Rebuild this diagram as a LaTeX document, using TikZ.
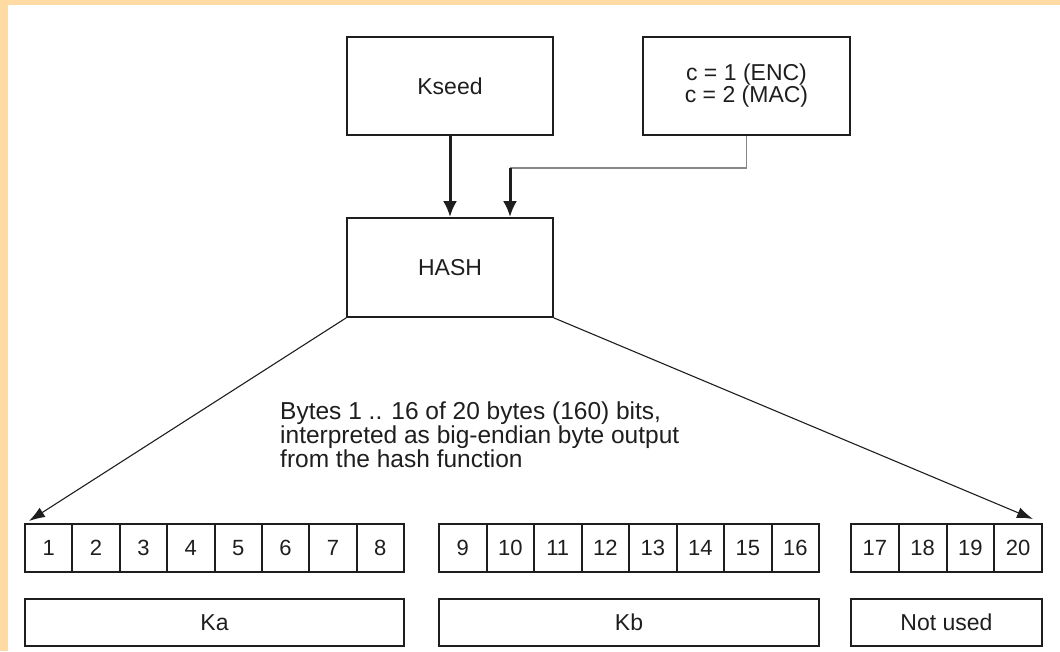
\documentclass[tikz,border=0pt]{standalone}
\usepackage{fontspec}
\setmainfont{Liberation Sans}
\usetikzlibrary{arrows.meta}
\definecolor{peach}{RGB}{255,218,162}
\definecolor{ink}{RGB}{30,30,30}
\definecolor{linegray}{RGB}{135,135,135}
\tikzset{
  box/.style={draw=ink, line width=1.8pt, inner sep=0pt, minimum width=206pt, minimum height=98pt, font=\fontsize{23}{22}\selectfont, text=ink, align=center},
  cell/.style={draw=ink, line width=2pt, inner sep=0pt, minimum height=48pt, font=\fontsize{22}{22}\selectfont, text=ink},
  bar/.style={draw=ink, line width=1.8pt, inner sep=0pt, minimum height=47pt, font=\fontsize{23}{23}\selectfont, text=ink},
  feed/.style={line width=3pt, draw=ink, -{Latex[length=16pt,width=14pt]}},
  fan/.style={line width=1.1pt, draw=ink, -{Latex[length=16pt,width=11pt]}},
  wire/.style={line width=1.5pt, draw=linegray},
  note/.style={inner sep=0pt, align=left, font=\fontsize{24.5}{21.5}\selectfont, text=ink},
}
\begin{document}
\begin{tikzpicture}[x=1pt,y=-1pt]
\useasboundingbox (0,0) rectangle (1060,651);
\fill[peach] (0,0) rectangle (1060,5);
\fill[peach] (0,0) rectangle (8,651);

\node[box] (kseed) at (450,86) {Kseed};
\node[box, minimum width=207pt] (cbox) at (746.5,86) {c = 1 (ENC)\\c = 2 (MAC)};
\node[box, minimum height=99pt] (hash) at (450,267.5) {HASH};

\foreach \i in {1,...,8}
  \node[cell, minimum width=47.375pt] (b\i) at ({25+47.375*(\i-0.5)},548) {\i};
\foreach \i in {9,...,16}
  \node[cell, minimum width=47.5pt] (b\i) at ({439+47.5*(\i-8.5)},548) {\i};
\foreach \i in {17,...,20}
  \node[cell, minimum width=47.75pt] (b\i) at ({851+47.75*(\i-16.5)},548) {\i};

\node[bar, minimum width=379pt] (ka) at (214.5,622.5) {Ka};
\node[bar, minimum width=380pt] (kb) at (629,622.5) {Kb};
\node[bar, minimum width=191pt] (nu) at (946.5,622.5) {Not used};

\node[note, anchor=north west] (txt) at (280,402) {Bytes 1 .. 16 of 20 bytes (160) bits,\\interpreted as big-endian byte output\\from the hash function};

\draw[feed] (kseed.south) -- (hash.north);
\coordinate (cturn) at (510,168);
\draw[wire] (cbox.south) |- (cturn);
\draw[feed] (cturn) -- (cturn |- hash.north);

\coordinate (ltip) at ([shift={(5,-2)}]b1.north west);
\coordinate (rtip) at ([shift={(-10,-4)}]b20.north east);
\draw[fan] (hash.south west) -- (ltip);
\draw[fan] (hash.south east) -- (rtip);
\end{tikzpicture}
\end{document}
